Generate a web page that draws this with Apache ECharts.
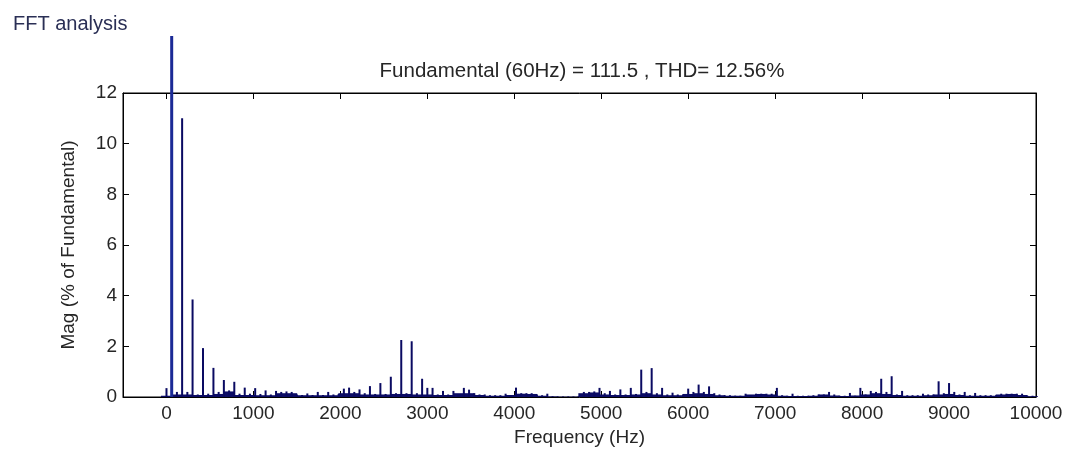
<!DOCTYPE html>
<html>
<head>
<meta charset="utf-8">
<script src="https://cdn.jsdelivr.net/npm/echarts@6/dist/echarts.min.js"></script>
<style>
html,body{margin:0;padding:0;background:#fff;}
#chart{width:1070px;height:455px;}
</style>
</head>
<body>
<div id="chart"></div>
<script>
// Harmonic magnitudes (% of fundamental) at 60 Hz steps, 0 .. 9960 Hz (fundamental bar shown as drawn, clipped above plot)
const harmonicStep = 60;
const harmonicMag = [
  0.35, 14.25, 0.2, 11.0, 0.2, 3.85, 0.1, 1.93, 0.13, 1.15,
  0.2, 0.67, 0.26, 0.6, 0.13, 0.37, 0.13, 0.35, 0.12, 0.26,
  0.1, 0.24, 0.2, 0.22, 0.2, 0.1, 0.08, 0.14, 0.08, 0.2,
  0.08, 0.2, 0.1, 0.12, 0.33, 0.37, 0.2, 0.3, 0.15, 0.43,
  0.12, 0.55, 0.12, 0.8, 0.15, 2.25, 0.15, 2.2, 0.15, 0.72,
  0.36, 0.36, 0.1, 0.24, 0.1, 0.24, 0.1, 0.36, 0.29, 0.15,
  0.1, 0.1, 0.07, 0.07, 0.07, 0.13, 0.07, 0.37, 0.15, 0.15,
  0.15, 0.1, 0.07, 0.13, 0.03, 0.02, 0.02, 0.02, 0.02, 0.03,
  0.2, 0.2, 0.22, 0.36, 0.15, 0.24, 0.1, 0.3, 0.1, 0.36,
  0.12, 1.08, 0.2, 1.14, 0.15, 0.36, 0.1, 0.17, 0.1, 0.1,
  0.33, 0.2, 0.49, 0.2, 0.42, 0.15, 0.1, 0.07, 0.07, 0.05,
  0.05, 0.13, 0.05, 0.13, 0.13, 0.13, 0.13, 0.36, 0.07, 0.05,
  0.13, 0.05, 0.05, 0.05, 0.07, 0.1, 0.1, 0.2, 0.1, 0.05,
  0.05, 0.16, 0.05, 0.36, 0.1, 0.24, 0.2, 0.72, 0.2, 0.82,
  0.1, 0.24, 0.07, 0.07, 0.07, 0.13, 0.1, 0.1, 0.62, 0.15,
  0.55, 0.2, 0.1, 0.2, 0.07, 0.16, 0.07, 0.07, 0.07, 0.07,
  0.13, 0.13, 0.13, 0.13, 0.13, 0.05, 0.05
];
// Low-level interharmonic floor at 120 Hz steps, 0 .. 9960 Hz
const floorStep = 120;
const floorMag = [
  0.05, 0.1, 0.1, 0.08, 0.08, 0.12, 0.22, 0.08, 0.08, 0.07,
  0.07, 0.15, 0.15, 0.07, 0.07, 0.07, 0.07, 0.15, 0.15, 0.1,
  0.1, 0.1, 0.12, 0.12, 0.1, 0.1, 0.08, 0.08, 0.15, 0.15,
  0.08, 0.05, 0.05, 0.08, 0.13, 0.12, 0.05, 0.02, 0.01, 0.01,
  0.15, 0.18, 0.1, 0.08, 0.08, 0.1, 0.15, 0.1, 0.07, 0.07,
  0.12, 0.15, 0.12, 0.07, 0.05, 0.05, 0.1, 0.12, 0.1, 0.05,
  0.04, 0.04, 0.05, 0.1, 0.06, 0.04, 0.06, 0.1, 0.15, 0.12,
  0.08, 0.05, 0.05, 0.07, 0.1, 0.12, 0.08, 0.05, 0.05, 0.05,
  0.1, 0.12, 0.08, 0.03
];
const xTicks = [0, 1000, 2000, 3000, 4000, 5000, 6000, 7000, 8000, 9000, 10000];
const yTicks = [0, 2, 4, 6, 8, 10, 12];
const titleText = 'Fundamental (60Hz) = 111.5 , THD= 12.56%';
const windowTitle = 'FFT analysis';
const xName = 'Frequency (Hz)';
const yName = 'Mag (% of Fundamental)';

const harmData = harmonicMag.map((v, i) => [i * harmonicStep, i === 1 ? '-' : v]);
const fundData = [[harmonicStep, harmonicMag[1]]];
const floorData = floorMag.map((v, i) => [i * floorStep, v]);

const txt = '#262626';
const font = 'Liberation Sans, Arial, sans-serif';
const chart = echarts.init(document.getElementById('chart'), null, {renderer: 'canvas'});
const xBase = {
  type: 'value', min: -500, max: 10000,
  splitLine: {show: false}
};
chart.setOption({
  animation: false,
  backgroundColor: '#fff',
  grid: {left: 123, right: 34, top: 93, bottom: 58, containLabel: false,
         show: true, borderColor: '#000', borderWidth: 1, backgroundColor: 'transparent'},
  title: [
    {text: windowTitle, left: 8, top: 9, textStyle: {fontFamily: font, fontSize: 20, fontWeight: 'normal', color: '#2a2f55'}},
    {text: titleText, left: 577, textAlign: 'center', top: 56, textStyle: {fontFamily: font, fontSize: 20.5, fontWeight: 'normal', color: txt}}
  ],
  xAxis: [
    Object.assign({}, xBase, {
      position: 'bottom',
      name: xName, nameLocation: 'middle', nameGap: 30,
      nameTextStyle: {fontFamily: font, fontSize: 19, color: txt},
      axisLine: {show: true, onZero: false, lineStyle: {color: '#000', width: 1}},
      axisTick: {show: true, inside: true, length: 6, customValues: xTicks, lineStyle: {color: '#000'}},
      axisLabel: {show: true, customValues: xTicks, margin: 7, fontFamily: font, fontSize: 19, color: txt,
                  formatter: v => String(v)}
    }),
    Object.assign({}, xBase, {
      position: 'top',
      axisLine: {show: true, onZero: false, lineStyle: {color: '#000', width: 1}},
      axisTick: {show: true, inside: true, length: 6, customValues: xTicks, lineStyle: {color: '#000'}},
      axisLabel: {show: false}
    }),
    Object.assign({}, xBase, {show: false})
  ],
  yAxis: [
    {
      type: 'value', min: 0, max: 12, interval: 2, position: 'left',
      name: yName, nameLocation: 'middle', nameGap: 45, nameRotate: 90,
      nameTextStyle: {fontFamily: font, fontSize: 19, color: txt},
      splitLine: {show: false},
      axisLine: {show: true, onZero: false, lineStyle: {color: '#000', width: 1}},
      axisTick: {show: true, inside: true, length: 6, lineStyle: {color: '#000'}},
      axisLabel: {show: true, margin: 6, fontFamily: font, fontSize: 19, color: txt}
    },
    {
      type: 'value', min: 0, max: 12, interval: 2, position: 'right',
      splitLine: {show: false},
      axisLine: {show: true, onZero: false, lineStyle: {color: '#000', width: 1}},
      axisTick: {show: true, inside: true, length: 6, lineStyle: {color: '#000'}},
      axisLabel: {show: false}
    }
  ],
  series: [
    {
      name: 'floor', type: 'bar', xAxisIndex: 1, yAxisIndex: 0,
      data: floorData, barWidth: 11,
      itemStyle: {color: '#0c0c66'}, silent: true
    },
    {
      name: 'harmonics', type: 'bar', xAxisIndex: 0, yAxisIndex: 0,
      data: harmData, barWidth: 2,
      itemStyle: {color: '#0a0a62'}
    },
    {
      name: 'fundamental', type: 'bar', xAxisIndex: 2, yAxisIndex: 0,
      data: fundData, barWidth: 3, clip: false,
      itemStyle: {color: '#1b2a96'}
    }
  ]
});
</script>
</body>
</html>
